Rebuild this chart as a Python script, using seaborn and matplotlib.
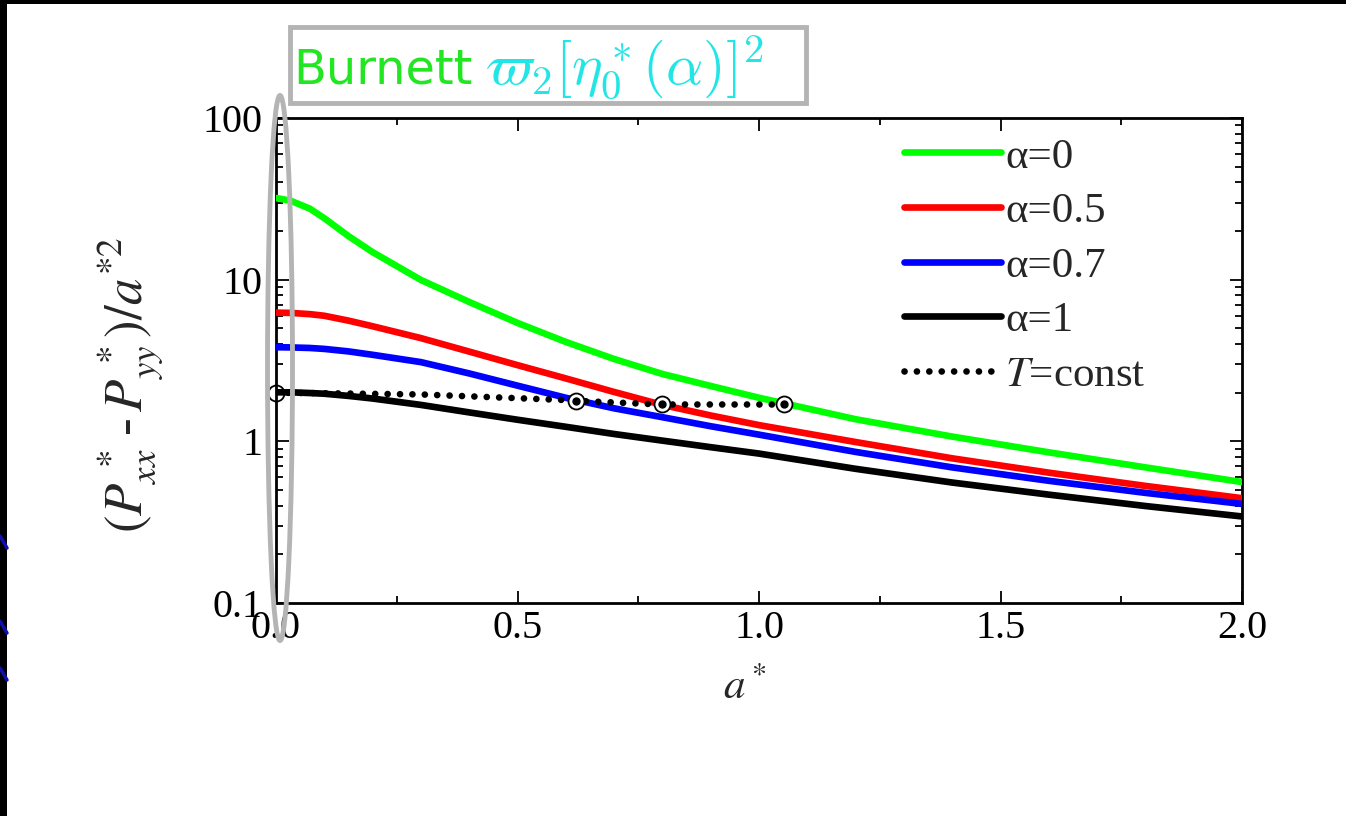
import numpy as np
import pandas as pd
import matplotlib
matplotlib.use("Agg")
import matplotlib.pyplot as plt
import matplotlib.patches as mpatches
import matplotlib.lines as mlines
from matplotlib.ticker import FixedLocator, LogLocator, FuncFormatter, NullFormatter
import seaborn as sns

# --- data ---
a_star = [0.0, 0.03, 0.07, 0.1, 0.15, 0.2, 0.3, 0.4, 0.5, 0.6, 0.7, 0.8, 0.9, 1.0, 1.2, 1.4, 1.6, 1.8, 2.0]
alpha_0 = [32.0, 30.8, 27.5, 24.0, 18.6, 14.8, 9.96, 7.28, 5.40, 4.12, 3.23, 2.61, 2.20, 1.86, 1.37, 1.07, 0.855, 0.69, 0.56]
alpha_05 = [6.25, 6.23, 6.12, 5.98, 5.58, 5.15, 4.35, 3.59, 2.96, 2.45, 2.02, 1.68, 1.445, 1.26, 0.99, 0.785, 0.64, 0.53, 0.445]
alpha_07 = [3.82, 3.81, 3.78, 3.73, 3.60, 3.43, 3.09, 2.63, 2.21, 1.86, 1.60, 1.41, 1.24, 1.10, 0.86, 0.69, 0.57, 0.48, 0.41]
alpha_1 = [2.01, 2.01, 1.99, 1.97, 1.91, 1.84, 1.68, 1.51, 1.36, 1.23, 1.11, 1.01, 0.92, 0.84, 0.676, 0.556, 0.468, 0.398, 0.343]

t_const_x = [0.0, 0.3, 0.6, 0.621, 0.799, 1.052]
t_const_y = [2.0, 1.95, 1.80, 1.78, 1.69, 1.69]

series = {"α=0": alpha_0, "α=0.5": alpha_05, "α=0.7": alpha_07, "α=1": alpha_1}
colors = {"α=0": "#00ff00", "α=0.5": "#ff0000", "α=0.7": "#0000ff", "α=1": "#000000"}

df = pd.DataFrame([(x, v, name) for name, vals in series.items() for x, v in zip(a_star, vals)],
                  columns=["a", "P", "alpha"])

sns.set_theme(style="ticks")
plt.rcParams["font.family"] = ["Liberation Serif", "DejaVu Serif"]
plt.rcParams["mathtext.fontset"] = "stix"

W, H = 1346, 816
fig = plt.figure(figsize=(W / 100, H / 100), dpi=100)
fig.patch.set_facecolor("white")

ax = fig.add_axes([276 / W, 1 - 603 / H, 966 / W, 485 / H])

LW = 4.8
sns.lineplot(data=df, x="a", y="P", hue="alpha", palette=colors, linewidth=LW,
             ax=ax, legend=False, sort=False, zorder=3)
ax.plot(t_const_x, t_const_y, color="black", linewidth=LW,
        linestyle=(0, (0.01, 1.85)), dash_capstyle="round", zorder=4)

# circles where the T=const line meets the curves
ax.plot(t_const_x[3:], t_const_y[3:], linestyle="none", marker="o", markersize=11.5,
        markerfacecolor="white", markeredgecolor="black", markeredgewidth=1.3, zorder=5)
ax.plot(t_const_x[3:], t_const_y[3:], linestyle="none", marker="o", markersize=5,
        color="black", zorder=6)
ax.plot([t_const_x[0]], [t_const_y[0]], linestyle="none", marker="o", markersize=11.5,
        markerfacecolor="white", markeredgecolor="black", markeredgewidth=1.3,
        zorder=2, clip_on=False)

ax.set_yscale("log")
ax.set_xlim(0, 2.0)
ax.set_ylim(0.1, 100)

ax.xaxis.set_major_locator(FixedLocator([0.0, 0.5, 1.0, 1.5, 2.0]))
ax.xaxis.set_minor_locator(FixedLocator([0.25, 0.75, 1.25, 1.75]))
ax.xaxis.set_major_formatter(FuncFormatter(lambda v, p: f"{v:.1f}"))
ax.yaxis.set_major_locator(FixedLocator([0.1, 1, 10, 100]))
ax.yaxis.set_minor_locator(LogLocator(base=10, subs=np.arange(2, 10)))
ax.yaxis.set_major_formatter(FuncFormatter(lambda v, p: f"{v:g}"))
ax.yaxis.set_minor_formatter(NullFormatter())

ax.tick_params(which="both", direction="in", top=True, right=True, colors="black",
               labelsize=29, width=1.3)
ax.tick_params(which="major", length=9)
ax.tick_params(which="minor", length=5)
ax.tick_params(axis="x", pad=5)
ax.tick_params(axis="y", pad=10)
for s in ax.spines.values():
    s.set_color("black")
    s.set_linewidth(2.0)
ax.set_facecolor("white")

ax.set_xlabel("")
ax.set_ylabel("")
fig.text(745 / W, 1 - 688 / H, r"$a^*$", fontsize=31, ha="center", va="center")
fig.text(130 / W, 1 - 385 / H, r"$(P^{\,*}_{xx}\,$-$\,P^{\,*}_{yy})/a^{*2}$", fontsize=38,
         rotation=90, ha="center", va="center")

handles = [mlines.Line2D([], [], color=colors[k], linewidth=LW, solid_capstyle="round")
           for k in series]
handles.append(mlines.Line2D([], [], color="black", linewidth=LW,
                             linestyle=(0, (0.01, 1.85)), dash_capstyle="round"))
labels = list(series.keys()) + [r"$T$=const"]
ax.legend(handles, labels, loc="upper left", bbox_to_anchor=((904 - 276) / 966, 0.96),
          frameon=False, fontsize=31, handlelength=2.25, handletextpad=0.1,
          labelspacing=0.36, borderpad=0, borderaxespad=0)

# grey ellipse around a*=0
fig.patches.append(mpatches.Ellipse((280 / W, 1 - 368 / H), 25 / W, 545 / H,
                                    transform=fig.transFigure, fill=False,
                                    edgecolor="#b4b4b4", linewidth=3.5, zorder=10))

# boxed label at the top
fig.patches.append(mpatches.Rectangle((290 / W, 1 - 103 / H), 516 / W, 76 / H,
                                      transform=fig.transFigure, facecolor="white",
                                      edgecolor="#b4b4b4", linewidth=3.5, zorder=10))
fig.text(293 / W, 1 - 84 / H, "Burnett", color="#22e622", fontsize=34.5,
         family="DejaVu Sans", ha="left", va="baseline", zorder=11)
fig.text(485 / W, 1 - 84 / H, r"$\varpi_2[\eta_0^*(\alpha)]^2$", color="#22e6e6",
         fontsize=42, math_fontfamily="cm", ha="left", va="baseline", zorder=11)

# dark frame of the slide
fig.patches.append(mpatches.Rectangle((0, 1 - 4 / H), 1, 4 / H, transform=fig.transFigure,
                                      facecolor="black", edgecolor="none", zorder=20))
fig.patches.append(mpatches.Rectangle((0, 0), 7 / W, 1, transform=fig.transFigure,
                                      facecolor="black", edgecolor="none", zorder=20))
for y0 in [548, 633, 680]:
    fig.lines.append(mlines.Line2D([0, 7 / W], [1 - (y0 - 12) / H, 1 - y0 / H],
                                   transform=fig.transFigure, color="#1010b0",
                                   linewidth=2.5, zorder=21))

fig.savefig("out.png", dpi=100)
